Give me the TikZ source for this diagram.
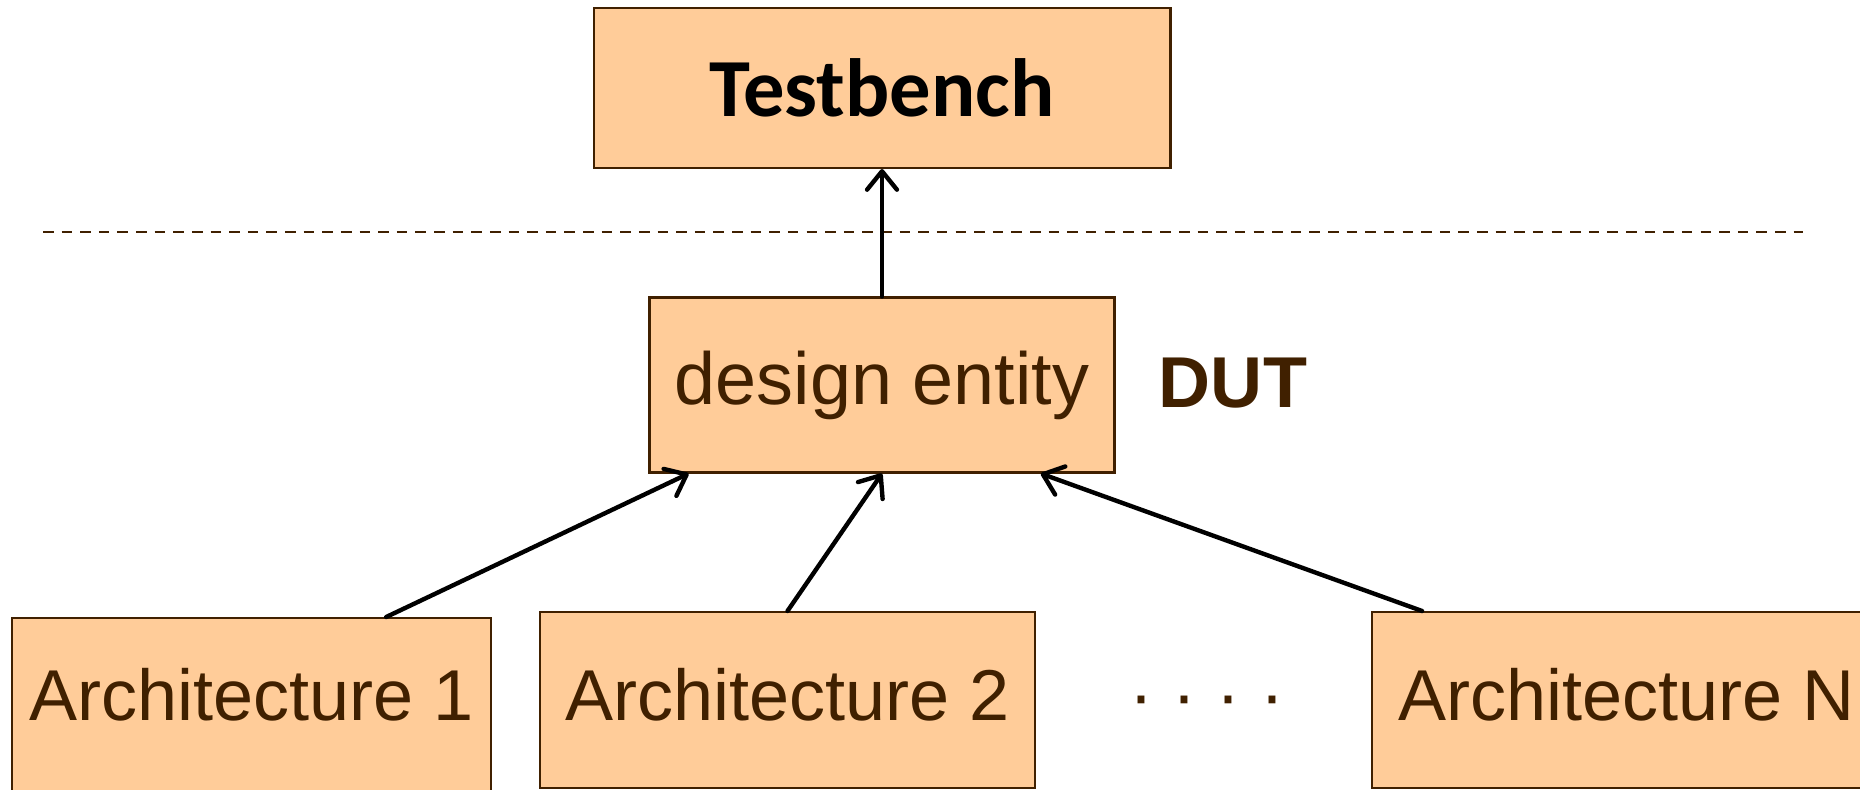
\documentclass[tikz,border=0pt]{standalone}
\usepackage{fontspec}
\setmainfont{Liberation Sans}
\newfontfamily\calibrifont{Carlito}
\usetikzlibrary{arrows.meta,calc}
\definecolor{DiagPeach}{RGB}{255,204,153}
\definecolor{DiagBrown}{RGB}{64,32,0}

\tikzset{
  blockbox/.style={draw=DiagBrown,fill=DiagPeach,line width=1.2pt,inner sep=0pt},
  archbox/.style={blockbox,anchor=north west,text=DiagBrown,
    font=\fontsize{41}{49}\selectfont,text depth=1.36cm},
  conn/.style={-{Straight Barb[length=10.5pt,width=17pt,round]},line width=2.5pt,line cap=round},
}

\begin{document}
\begin{tikzpicture}[x=0.02cm,y=-0.02cm]
\useasboundingbox (0,0) rectangle (1860,790);
\clip (0,0) rectangle (1860,790);
% upper level
\node[blockbox,minimum width=11.54cm,minimum height=3.2cm,
  font=\calibrifont\bfseries\fontsize{47}{56}\selectfont] (tb) at (882,88) {Testbench};
\coordinate (sepl) at (43,232);
\coordinate (sepr) at (1803,232);
\draw[DiagBrown,line width=1.2pt,dash pattern=on 6pt off 4.6pt] (sepl) -- (sepr);
% entity
\node[blockbox,text=DiagBrown,minimum width=9.3cm,minimum height=3.5cm,
  font=\fontsize{42}{50}\selectfont] (dut) at (882,385) {design entity};
\node[text=DiagBrown,font=\bfseries\fontsize{41}{49}\selectfont] (dutlabel) at (1233,383) {DUT};
% architectures
\node[archbox,minimum width=9.58cm,text height=2.04cm,text depth=2cm] (arch1) at (11,617) {Architecture 1};
\node[archbox,minimum width=9.9cm,text height=2.16cm] (arch2) at (539,611) {Architecture 2};
\node[archbox,minimum width=10.18cm,text height=2.16cm] (archN) at (1371,611) {Architecture N};
\node[text=DiagBrown,font=\fontsize{41}{49}\selectfont,anchor=base] (dots) at (1207,719) {· · · ·};
% connectors
\coordinate (a1top) at ($(arch1.north west)!0.78!(arch1.north east)$);
\coordinate (aNtop) at ($(archN.north west)!0.1!(archN.north east)$);
\coordinate (in1) at ($(dut.south west)!0.086!(dut.south east)$);
\coordinate (inN) at ($(dut.south west)!0.84!(dut.south east)$);
\draw[conn] (dut.north) -- (tb.south);
\draw[conn] (a1top) -- (in1);
\draw[conn] (arch2.north) -- (dut.south);
\draw[conn] (aNtop) -- (inN);
\end{tikzpicture}
\end{document}
